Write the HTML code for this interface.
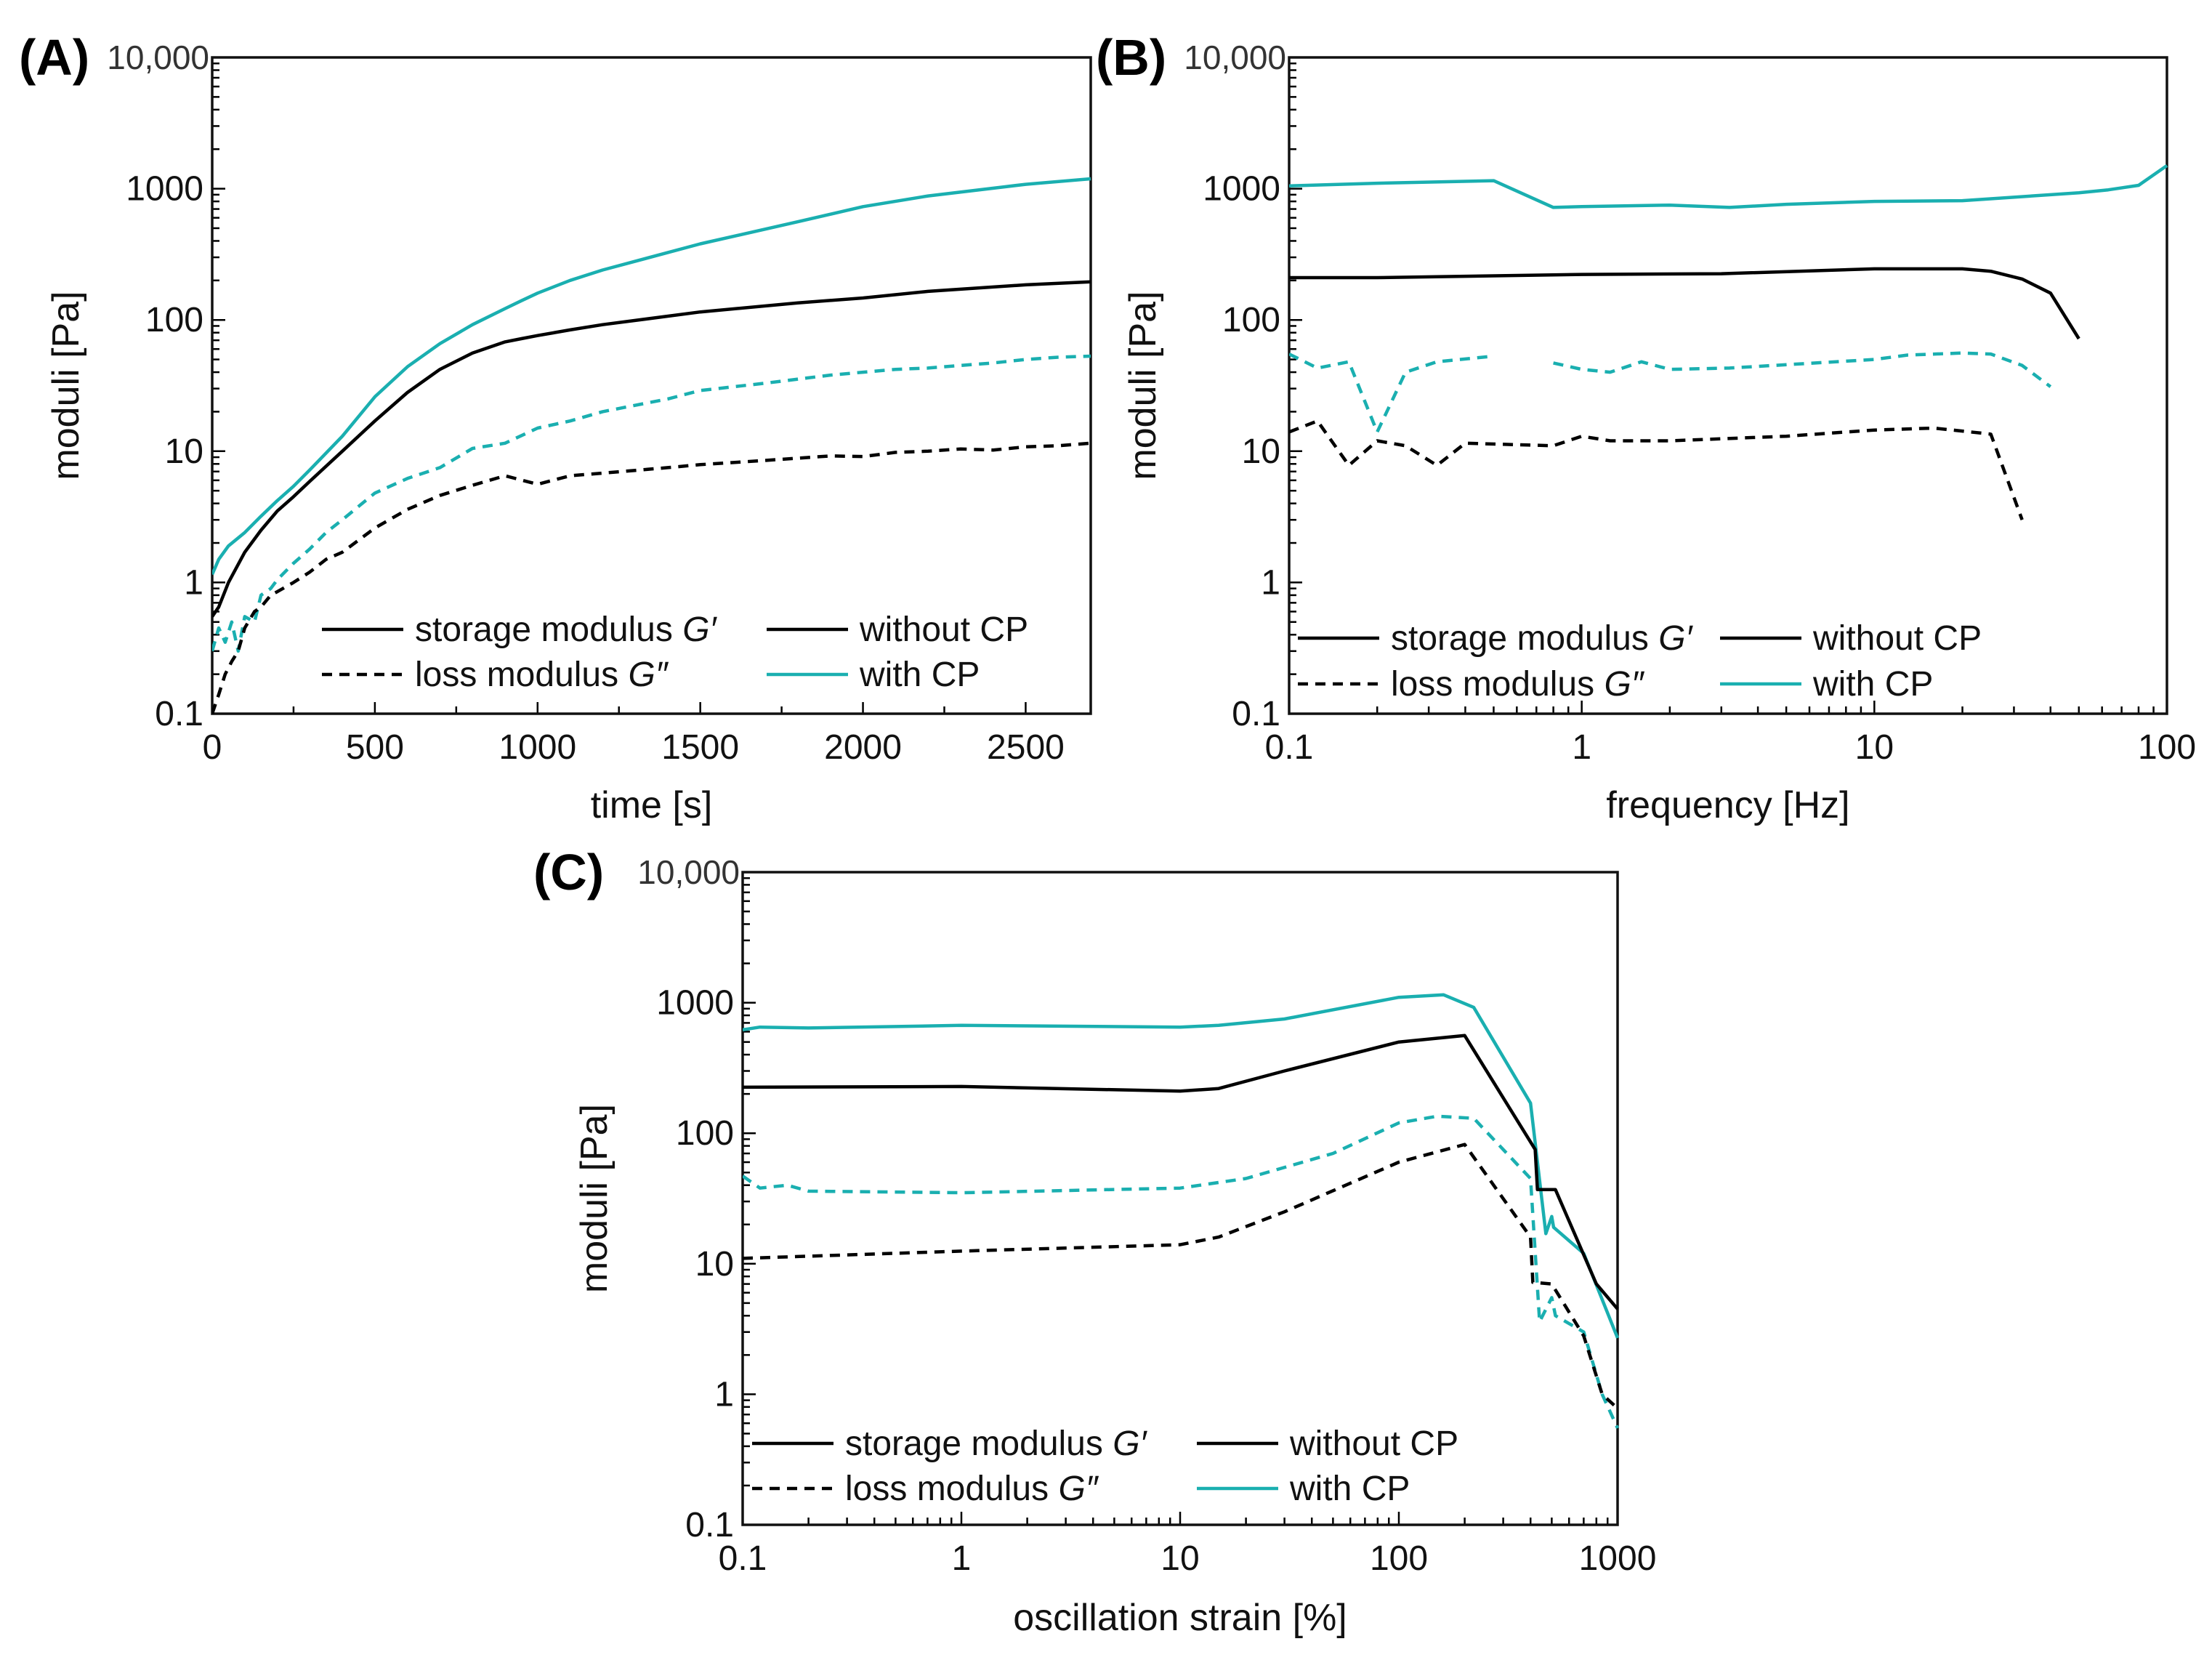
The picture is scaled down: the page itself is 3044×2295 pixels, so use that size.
<!DOCTYPE html>
<html><head><meta charset="utf-8"><style>
html,body{margin:0;padding:0;background:#fff}
svg{display:block}
text{font-family:"Liberation Sans Narrow","Liberation Sans",sans-serif}
</style></head><body>
<svg id="fig" width="3044" height="2295" viewBox="0 0 3044 2295" xmlns="http://www.w3.org/2000/svg"></svg>
<script>
// ---- Panel A data (time sweep) ----
const aTimeGp = [0,20,50,100,150,200,250,300,400,500,600,700,800,900,950,1000,1100,1200,1500,1800,2000,2200,2500,2700];
const aGpCP  = [1.15,1.5,1.9,2.4,3.2,4.2,5.4,7.2,13,26,44,66,92,122,140,160,200,240,380,560,730,880,1080,1190];
const aGpNo  = [0.55,0.65,1.0,1.7,2.5,3.5,4.5,5.9,10,17,28,42,56,68,72,76,84,92,115,135,147,165,185,195];
const aTimeGpp = [0,20,40,60,80,100,130,150,180,200,250,300,350,400,450,500,600,700,800,900,1000,1100,1200,1400,1500,1700,1900,2000,2100,2200,2300,2400,2500,2600,2700];
const aGppCP = [0.3,0.45,0.35,0.5,0.3,0.55,0.5,0.8,0.9,1.05,1.4,1.8,2.4,3.0,3.8,4.8,6.2,7.5,10.5,11.5,15,17,20,25,29,33,38,40,42,43,45,47,50,52,53];
const aGppNo = [0.1,0.14,0.2,0.25,0.3,0.45,0.6,0.65,0.8,0.85,1.0,1.2,1.5,1.7,2.1,2.6,3.6,4.6,5.5,6.5,5.6,6.5,6.8,7.5,7.9,8.5,9.2,9.1,9.8,10,10.4,10.2,10.8,11,11.5];
const aXTicks = [0,500,1000,1500,2000,2500];
// ---- Panel B data (frequency sweep) ----
const bFreqGp = [0.1,0.2,0.5,0.8,1,2,3.2,5,10,20,50,63,80,100];
const bGpCP = [1050,1100,1150,720,730,750,720,760,800,810,930,980,1060,1500];
const bFreqGpNo = [0.1,0.2,1,3,10,20,25,32,40,50];
const bGpNo = [210,210,222,225,245,245,235,205,160,72];
const bFreqGppCP = [0.1,0.125,0.16,0.2,0.25,0.32,0.5,null,0.8,1,1.25,1.6,2,3.2,10,13,20,25,32,40];
const bGppCP = [55,43,48,14,40,48,53,null,47,42,40,48,42,43,50,54,56,55,45,31];
const bFreqGppNo = [0.1,0.125,0.16,0.2,0.25,0.32,0.4,0.8,1,1.25,2,5,10,16,25,32];
const bGppNo = [14,17,7.8,12,11,7.8,11.5,11,13,12,12,13,14.5,15,13.5,3];
const bXTicks = [0.1,1,10,100];
// ---- Panel C data (amplitude sweep) ----
const cStrainGpCP = [0.1,0.12,0.2,1,10,15,30,100,160,220,400,470,500,510,700,1000];
const cGpCP = [620,650,640,670,650,670,750,1100,1150,920,170,17,23,19,12,2.7];
const cStrainGpNo = [0.1,1,10,15,30,100,200,420,430,520,800,1000];
const cGpNo = [225,228,210,220,300,500,560,75,37,37,7,4.5];
const cStrainGppCP = [0.1,0.12,0.16,0.2,1,10,20,50,100,150,220,400,440,500,520,700,850,1000];
const cGppCP = [47,38,40,36,35,38,45,70,120,135,130,45,3.6,5.5,4,3,1.0,0.55];
const cStrainGppNo = [0.1,1,10,15,30,100,200,400,410,500,700,850,1000];
const cGppNo = [11,12.5,14,16,25,60,82,16,7.2,7,2.8,1.0,0.78];
const cXTicks = [0.1,1,10,100,1000];
const yTickVals = [0.1,1,10,100,1000];
const yTickLabels = ["0.1","1","10","100","1000"];

const NS="http://www.w3.org/2000/svg";
const svg=document.getElementById('fig');
const CYAN="#1aafb0";
const LW=4.5;
function el(tag,attrs,parent){const e=document.createElementNS(NS,tag);for(const k in attrs)e.setAttribute(k,attrs[k]);(parent||svg).appendChild(e);return e;}

function panel(p){
  const g=el('g',{});
  
  
  const {L,R,T,B}=p;
  const yS=v=>B-(Math.log10(v)+1)/5*(B-T);
  const xS=p.logx? (v=>L+(Math.log10(v)-Math.log10(p.xmin))/(Math.log10(p.xmax)-Math.log10(p.xmin))*(R-L)) : (v=>L+(v-p.xmin)/(p.xmax-p.xmin)*(R-L));
  for(let d=-1;d<4;d++){for(let m=1;m<10;m++){const v=m*Math.pow(10,d);const y=yS(v);const len=m===1?18:10;
    const t=el('line',{x1:L,x2:L+len,y1:y,y2:y,stroke:'#000','stroke-width':2.5},g);
    
    }}
  yTickVals.forEach((v,i)=>{const t=el('text',{x:L-12,y:yS(v)+16,'text-anchor':'end','font-size':48,fill:'#111'},g);t.textContent=yTickLabels[i];
    
    });
  const top=el('text',{x:L-4,y:T+16,'text-anchor':'end','font-size':46,fill:'#333'},g);top.textContent="10,000";
  
  
  if(p.logx){for(let d=Math.log10(p.xmin);d<Math.log10(p.xmax);d++){for(let m=1;m<10;m++){const v=m*Math.pow(10,d);const x=xS(v);const len=m===1?18:10;
    const t=el('line',{x1:x,x2:x,y1:B,y2:B-len,stroke:'#000','stroke-width':2.5},g);
    
    }}}
  else{for(let v=p.xmin;v<=p.xmax;v+=250){const x=xS(v);const t=el('line',{x1:x,x2:x,y1:B,y2:B-(v%500===0?16:10),stroke:'#000','stroke-width':2.5},g);
    
    }}
  p.xticks.forEach(v=>{const t=el('text',{x:xS(v),y:B+62,'text-anchor':'middle','font-size':48,fill:'#111'},g);t.textContent=String(v);
    
    });
  const fr=el('rect',{x:L,y:T,width:R-L,height:B-T,fill:'none',stroke:'#111','stroke-width':3.5},g);
  
  
  const cp=el('clipPath',{id:'clip'+p.id},g);el('rect',{x:L,y:T-2,width:R-L+2,height:B-T+4},cp);
  p.series.forEach(s=>{let d='';let pen=false;
    s.x.forEach((xv,i)=>{const yv=s.y[i];if(xv===null||yv===null){pen=false;return;}
      d+=(pen?'L':'M')+xS(xv).toFixed(1)+','+yS(yv).toFixed(1);pen=true;});
    const path=el('path',{d:d,fill:'none',stroke:s.c,'stroke-width':LW,'stroke-linejoin':'round','clip-path':'url(#clip'+p.id+')'},g);
    if(s.dash)path.setAttribute('stroke-dasharray','14,10');
    
    });
  const xt=el('text',{x:(L+R)/2,y:p.xtY,'text-anchor':'middle','font-size':52,fill:'#111'},g);xt.textContent=p.xtitle;
  
  
  const yx=p.ytX, yy=(T+B)/2;
  const yt=el('text',{x:yx,y:yy,'text-anchor':'middle','font-size':52,fill:'#111',transform:`rotate(-90 ${yx} ${yy})`},g);yt.textContent="moduli [Pa]";
  
  
  const lb=el('text',{x:p.lbX,y:T+24,'font-size':70,'font-weight':'bold',fill:'#000','font-family':'Liberation Sans, sans-serif'},g);lb.textContent=p.label;
  
  
  const lg=p.leg;
  const items=[[lg.x1,lg.y1,'#000',false,'storage modulus ',"G′"],[lg.x1,lg.y2,'#000',true,'loss modulus ',"G″"],[lg.x2,lg.y1,'#000',false,'without CP',''],[lg.x2,lg.y2,CYAN,false,'with CP','']];
  items.forEach(it=>{const lgG=el('g',{},g);
    
    
    const ln=el('line',{x1:it[0],x2:it[0]+112,y1:it[1],y2:it[1],stroke:it[2],'stroke-width':LW},lgG);
    if(it[3])ln.setAttribute('stroke-dasharray','14,10');
    const t=el('text',{x:it[0]+128,y:it[1]+16,'font-size':48,fill:'#111'},lgG);t.textContent=it[4];
    if(it[5]){const ts=el('tspan',{'font-style':'italic'},t);ts.textContent=it[5];}
  });
}

panel({id:'A',name:'panel-a-time-sweep',L:292,R:1501,T:79,B:982,xmin:0,xmax:2700,logx:false,xticks:aXTicks,xtitle:'time [s]',xtY:1125,ytX:108,lbX:26,label:'(A)',
  leg:{x1:443,x2:1055,y1:866,y2:928},
  series:[{x:aTimeGp,y:aGpCP,c:CYAN,n:'g-prime-with-cp'},{x:aTimeGp,y:aGpNo,c:'#000',n:'g-prime-without-cp'},
          {x:aTimeGpp,y:aGppCP,c:CYAN,dash:true,n:'g-double-prime-with-cp'},{x:aTimeGpp,y:aGppNo,c:'#000',dash:true,n:'g-double-prime-without-cp'}]});
panel({id:'B',name:'panel-b-frequency-sweep',L:1774,R:2982,T:79,B:982,xmin:0.1,xmax:100,logx:true,xticks:bXTicks,xtitle:'frequency [Hz]',xtY:1125,ytX:1590,lbX:1508,label:'(B)',
  leg:{x1:1786,x2:2367,y1:878,y2:941},
  series:[{x:bFreqGp,y:bGpCP,c:CYAN,n:'g-prime-with-cp'},{x:bFreqGpNo,y:bGpNo,c:'#000',n:'g-prime-without-cp'},
          {x:bFreqGppCP,y:bGppCP,c:CYAN,dash:true,n:'g-double-prime-with-cp'},{x:bFreqGppNo,y:bGppNo,c:'#000',dash:true,n:'g-double-prime-without-cp'}]});
panel({id:'C',name:'panel-c-strain-sweep',L:1022,R:2226,T:1200,B:2098,xmin:0.1,xmax:1000,logx:true,xticks:cXTicks,xtitle:'oscillation strain [%]',xtY:2243,ytX:835,lbX:734,label:'(C)',
  leg:{x1:1035,x2:1647,y1:1986,y2:2048},
  series:[{x:cStrainGpCP,y:cGpCP,c:CYAN,n:'g-prime-with-cp'},{x:cStrainGpNo,y:cGpNo,c:'#000',n:'g-prime-without-cp'},
          {x:cStrainGppCP,y:cGppCP,c:CYAN,dash:true,n:'g-double-prime-with-cp'},{x:cStrainGppNo,y:cGppNo,c:'#000',dash:true,n:'g-double-prime-without-cp'}]});
</script>
</body></html>
